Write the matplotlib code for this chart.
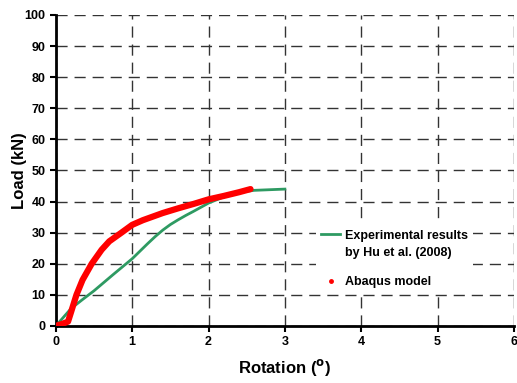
import numpy as np
import matplotlib.pyplot as plt
from matplotlib.lines import Line2D
from matplotlib.legend_handler import HandlerLine2D

plt.rcParams['font.family'] = ['Liberation Sans', 'DejaVu Sans']
plt.rcParams['font.weight'] = 'bold'

# experimental curve (Hu et al. 2008)
exp_rot = [0.0, 0.1, 0.2, 0.35, 0.5, 0.75, 1.0, 1.1, 1.2, 1.3, 1.4, 1.5, 1.6, 1.7,
           1.8, 2.0, 2.2, 2.4, 2.6, 2.8, 3.0]
exp_load = [0.0, 2.8, 5.6, 8.5, 11.3, 16.5, 21.6, 24.0, 26.4, 28.7, 30.8, 32.6, 34.1, 35.5,
            36.8, 39.5, 41.5, 43.0, 43.6, 43.8, 44.0]

# abaqus model
fe_rot = [0.0, 0.05, 0.1, 0.16, 0.2, 0.27, 0.35, 0.47, 0.6, 0.7, 0.86, 1.0, 1.14,
          1.4, 1.6, 1.8, 2.0, 2.2, 2.4, 2.55]
fe_load = [0.0, 0.4, 0.8, 1.4, 4.5, 10.0, 14.8, 20.0, 24.5, 27.2, 30.0, 32.5, 34.0,
           36.3, 37.8, 39.2, 40.7, 41.8, 43.0, 44.0]


class RaisedLine(HandlerLine2D):
    # put the legend line next to the first text line
    def create_artists(self, *args, **kw):
        arts = super().create_artists(*args, **kw)
        for a in arts:
            a.set_ydata(np.asarray(a.get_ydata()) + 7.5)
        return arts


fig = plt.figure(figsize=(5.17, 3.83), dpi=100)
ax = fig.add_axes([0.108, 0.149, 0.886, 0.812])

ax.plot(exp_rot, exp_load, color='#2e9a62', lw=2, zorder=3)
ax.plot(fe_rot, fe_load, color='red', lw=4.5, solid_capstyle='round',
        solid_joinstyle='round', zorder=4)

ax.set_xlim(0, 6)
ax.set_ylim(0, 100)
ax.set_xticks(range(0, 7))
ax.set_yticks(range(0, 101, 10))
ax.grid(True, color='#333333', ls=(0, (8, 5)), lw=1)
ax.set_axisbelow(True)

for s in ['top', 'right']:
    ax.spines[s].set_visible(False)
for s in ['left', 'bottom']:
    ax.spines[s].set_linewidth(2)
ax.tick_params(direction='out', length=4, width=1.5, labelsize=9)
for lab in ax.get_xticklabels() + ax.get_yticklabels():
    lab.set_fontweight('bold')

ax.set_xlabel('Rotation ($\\mathbf{^o}$)', fontsize=12, fontweight='bold', labelpad=6)
ax.set_ylabel('Load (kN)', fontsize=12, fontweight='bold', labelpad=-2)

h_exp = Line2D([], [], color='#2e9a62', lw=2)
h_fe = Line2D([], [], color='red', marker='o', ms=2.5, ls='none')
labels = ['Experimental results\nby Hu et al. (2008)', 'Abaqus model']
leg = ax.legend([h_exp, h_fe], labels, loc='upper left', bbox_to_anchor=(0.612, 0.412),
                bbox_transform=fig.transFigure, frameon=True, fontsize=9,
                handlelength=1.5, handletextpad=0.4, labelspacing=1.4,
                borderaxespad=0, handler_map={h_exp: RaisedLine()})
for t in leg.get_texts():
    t.set_linespacing(1.5)
leg.get_frame().set_edgecolor('none')
leg.get_frame().set_facecolor('white')
leg.get_frame().set_alpha(1)

fig.savefig('out.png', dpi=100)
